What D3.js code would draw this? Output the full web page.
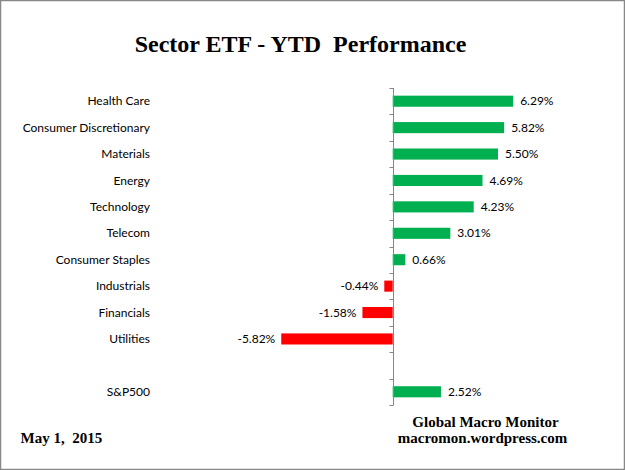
<!DOCTYPE html>
<html>
<head>
<meta charset="utf-8">
<script src="https://cdn.jsdelivr.net/npm/d3@7"></script>
<style>
  body { margin: 0; background: #fff; }
  svg { display: block; }
</style>
</head>
<body>
<div id="chart"></div>
<script>
// sectors, with a blank row before the index
var categories = ["Health Care", "Consumer Discretionary", "Materials", "Energy", "Technology",
    "Telecom", "Consumer Staples", "Industrials", "Financials", "Utilities", "", "S&P500"];
var values = [6.29, 5.82, 5.50, 4.69, 4.23, 3.01, 0.66, -0.44, -1.58, -5.82, null, 2.52];
var labels = ["6.29%", "5.82%", "5.50%", "4.69%", "4.23%", "3.01%", "0.66%", "-0.44%", "-1.58%", "-5.82%", "", "2.52%"];

var width = 625, height = 470;

var svg = d3.select("#chart")
    .append("svg")
    .attr("width", width)
    .attr("height", height);

// outer frame
svg.append("rect")
    .attr("x", 0.5).attr("y", 0.5)
    .attr("width", width - 1).attr("height", height - 1)
    .attr("fill", "#fff")
    .attr("stroke", "#888")
    .attr("stroke-width", 1.5);

svg.append("text")
    .attr("x", 300.5).attr("y", 52)
    .attr("text-anchor", "middle")
    .style("font-family", "'Liberation Serif', 'Times New Roman', serif")
    .style("font-weight", "bold")
    .style("font-size", "24px")
    .text("Sector ETF - YTD\u00a0\u00a0Performance");

var x = d3.scaleLinear()
    .domain([-6, 6.5])
    .range([392.7 - 6 * 19.15, 392.7 + 6.5 * 19.15]);

var y = d3.scaleBand()
    .domain(d3.range(categories.length))
    .range([88, 405])
    .paddingInner(0.58)
    .paddingOuter(0.29);

var data = categories.map((c, i) => ({name: c, value: values[i], label: labels[i], i: i}));
var rows = data.filter(d => d.value !== null);

var g = svg.append("g");

// category labels
g.append("g")
    .selectAll("text")
    .data(rows)
    .join("text")
    .attr("x", 150)
    .attr("y", d => y(d.i) + y.bandwidth() / 2)
    .attr("dy", "0.35em")
    .attr("text-anchor", "end")
    .style("font-family", "Lato, 'Noto Sans', sans-serif")
    .style("font-size", "12px")
    .attr("fill", "#000")
    .text(d => d.name);

// bars
g.append("g")
    .selectAll("rect")
    .data(rows)
    .join("rect")
    .attr("x", d => x(Math.min(0, d.value)))
    .attr("width", d => Math.abs(x(d.value) - x(0)))
    .attr("y", d => y(d.i))
    .attr("height", y.bandwidth())
    .attr("fill", d => d.value < 0 ? "#ff0000" : "#00b050");

// value labels
g.append("g")
    .selectAll("text")
    .data(rows)
    .join("text")
    .attr("x", d => d.value < 0 ? x(d.value) - 6 : x(d.value) + 7)
    .attr("y", d => y(d.i) + y.bandwidth() / 2)
    .attr("dy", "0.35em")
    .attr("text-anchor", d => d.value < 0 ? "end" : "start")
    .style("font-family", "Lato, 'Noto Sans', sans-serif")
    .style("font-size", "12px")
    .attr("fill", "#000")
    .text(d => d.label);

// category axis at zero, ticks on band boundaries
var step = y.step();
var x0 = Math.round(x(0)) + 0.5;
g.append("line")
    .attr("x1", x0).attr("x2", x0)
    .attr("y1", 88).attr("y2", 405)
    .attr("stroke", "#868686");
g.append("g")
    .selectAll("line")
    .data(d3.range(categories.length + 1))
    .join("line")
    .attr("x1", x0 - 4).attr("x2", x0)
    .attr("y1", i => Math.round(88 + i * step) + 0.5)
    .attr("y2", i => Math.round(88 + i * step) + 0.5)
    .attr("stroke", "#868686");

// footer
var serif = "'Liberation Serif', 'Times New Roman', serif";
svg.append("text")
    .attr("x", 485.5).attr("y", 426.5)
    .attr("text-anchor", "middle")
    .style("font-family", serif).style("font-weight", "bold").style("font-size", "15px")
    .text("Global Macro Monitor");
svg.append("text")
    .attr("x", 482.5).attr("y", 443)
    .attr("text-anchor", "middle")
    .style("font-family", serif).style("font-weight", "bold").style("font-size", "15px")
    .text("macromon.wordpress.com");
svg.append("text")
    .attr("x", 20.5).attr("y", 443)
    .style("font-family", serif).style("font-weight", "bold").style("font-size", "15px")
    .text("May 1,\u00a0\u00a02015");
</script>
</body>
</html>
